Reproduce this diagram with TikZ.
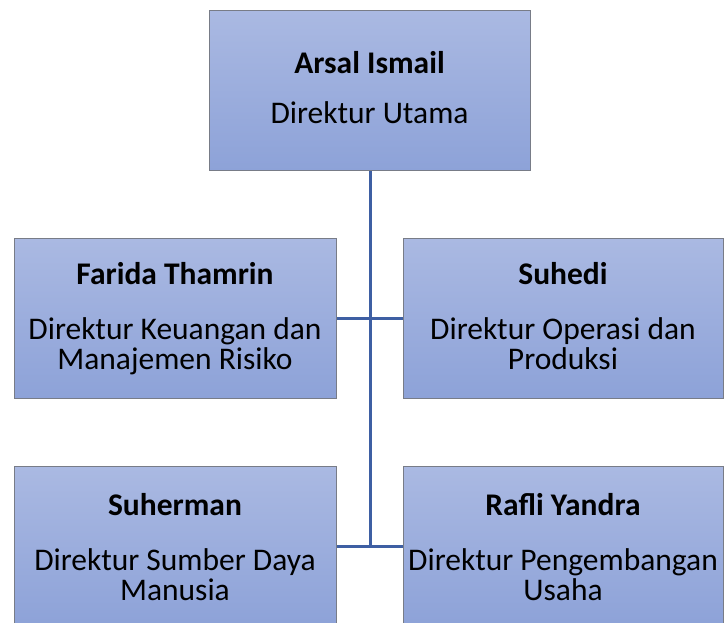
\documentclass[tikz,border=0pt]{standalone}
\usepackage{fontspec}
\setmainfont{Carlito}
\definecolor{boxtop}{RGB}{170,185,226}
\definecolor{boxbot}{RGB}{141,162,216}
\definecolor{boxborder}{RGB}{120,124,135}
\definecolor{conncol}{RGB}{62,95,163}
\begin{document}
\begin{tikzpicture}[x=1pt,y=-1pt,
  box/.style={draw=boxborder, line width=1.3pt, top color=boxtop, bottom color=boxbot,
    minimum height=160pt, inner sep=0pt, anchor=north west},
  pname/.style={anchor=base, inner sep=0pt, font=\fontsize{31.5}{30}\selectfont\bfseries},
  ptitle/.style={anchor=base, inner sep=0pt, font=\fontsize{31.5}{30}\selectfont, align=center},
  conn/.style={draw=conncol, line width=3pt}]
\useasboundingbox (0,0) rectangle (724,623);
\node[box, minimum width=321pt] (top) at (209,10) {};
\node[box, minimum width=322pt] (ft) at (14,238) {};
\node[box, minimum width=320pt] (su) at (403,238) {};
\node[box, minimum width=322pt] (sm) at (14,466) {};
\node[box, minimum width=320pt] (ry) at (403,466) {};
% connectors
\draw[conn] (top.south) -- (top.south |- sm.east);
\draw[conn] (ft.east) -- (su.west);
\draw[conn] (sm.east) -- (ry.west);
% texts
\node[pname] (topn) at (369.5,74) {Arsal Ismail};
\node[ptitle] (topt) at (369.5,124) {Direktur Utama};
\node[pname] (ftn) at (175,285) {Farida Thamrin};
\node[ptitle] (ftt) at (175,340) {Direktur Keuangan dan};
\node[ptitle] (ftt2) at (175,370) {Manajemen Risiko};
\node[pname] (sun) at (563,285) {Suhedi};
\node[ptitle] (sut) at (563,340) {Direktur Operasi dan};
\node[ptitle] (sut2) at (563,370) {Produksi};
\node[pname] (smn) at (175,515) {Suherman};
\node[ptitle] (smt) at (175,570) {Direktur Sumber Daya};
\node[ptitle] (smt2) at (175,600) {Manusia};
\node[pname] (ryn) at (563,515) {Rafli Yandra};
\node[ptitle] (ryt) at (563,570) {Direktur Pengembangan};
\node[ptitle] (ryt2) at (563,600) {Usaha};
\end{tikzpicture}
\end{document}
